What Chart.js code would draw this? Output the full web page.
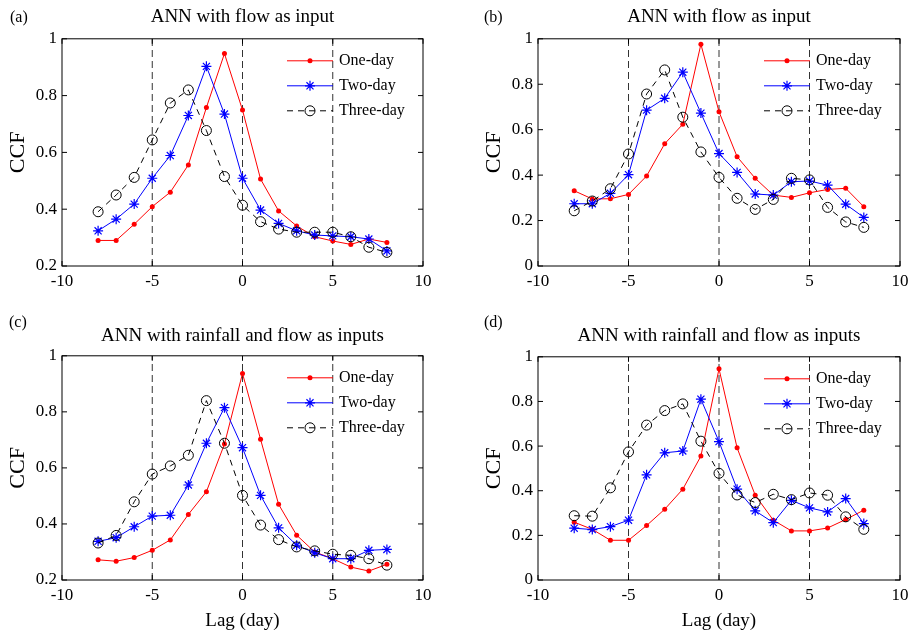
<!DOCTYPE html>
<html>
<head>
<meta charset="utf-8">
<script src="https://cdn.jsdelivr.net/npm/chart.js@4.4.0/dist/chart.umd.min.js"></script>
<style>
  body { margin: 0; background: #fff; }
  #page { position: relative; width: 914px; height: 642px; overflow: hidden; background: #fff; }
  canvas { position: absolute; }
  .tag { position: absolute; font: 16px "Liberation Serif", serif; line-height: 16px; color: #000; }
</style>
</head>
<body>
<div id="page">
  <canvas id="chartA" width="457" height="300" style="left:0px;top:0px"></canvas>
  <canvas id="chartB" width="457" height="300" style="left:457px;top:0px"></canvas>
  <canvas id="chartC" width="457" height="322" style="left:0px;top:320px"></canvas>
  <canvas id="chartD" width="457" height="322" style="left:457px;top:320px"></canvas>
  <div class="tag" style="left:10px;top:9px">(a)</div>
  <div class="tag" style="left:484px;top:9px">(b)</div>
  <div class="tag" style="left:9px;top:314px">(c)</div>
  <div class="tag" style="left:484px;top:314px">(d)</div>
</div>
<script>
const lags = [-8, -7, -6, -5, -4, -3, -2, -1, 0, 1, 2, 3, 4, 5, 6, 7, 8]
const xTicks = [-10, -5, 0, 5, 10]
const yTicksShort = [0.2, 0.4, 0.6, 0.8, 1]
const yTicksFull = [0, 0.2, 0.4, 0.6, 0.8, 1]
const markerLines = [-5, 0, 5]
const seriesNames = ["One-day", "Two-day", "Three-day"]

// (a) ANN with flow as input
const oneA = [0.29, 0.29, 0.347, 0.409, 0.46, 0.556, 0.758, 0.948, 0.749, 0.506, 0.394, 0.341, 0.303, 0.288, 0.276, 0.295, 0.283]
const twoA = [0.324, 0.365, 0.418, 0.509, 0.589, 0.73, 0.903, 0.735, 0.509, 0.397, 0.35, 0.324, 0.309, 0.306, 0.303, 0.295, 0.253]
const threeA = [0.391, 0.45, 0.512, 0.644, 0.774, 0.82, 0.677, 0.515, 0.414, 0.356, 0.33, 0.319, 0.319, 0.319, 0.303, 0.266, 0.248]

// (b) ANN with flow as input
const oneB = [0.331, 0.295, 0.296, 0.315, 0.396, 0.538, 0.624, 0.976, 0.679, 0.481, 0.386, 0.312, 0.302, 0.322, 0.337, 0.342, 0.261]
const twoB = [0.274, 0.274, 0.32, 0.402, 0.686, 0.738, 0.853, 0.673, 0.495, 0.412, 0.317, 0.312, 0.371, 0.374, 0.356, 0.272, 0.214]
const threeB = [0.243, 0.286, 0.34, 0.493, 0.757, 0.863, 0.655, 0.502, 0.39, 0.298, 0.249, 0.293, 0.386, 0.379, 0.258, 0.194, 0.17]

// (c) ANN with rainfall and flow as inputs
const oneC = [0.272, 0.267, 0.28, 0.306, 0.343, 0.434, 0.515, 0.685, 0.937, 0.702, 0.47, 0.36, 0.3, 0.276, 0.246, 0.232, 0.256]
const twoC = [0.338, 0.351, 0.39, 0.428, 0.431, 0.539, 0.688, 0.815, 0.672, 0.502, 0.386, 0.324, 0.297, 0.276, 0.276, 0.306, 0.309]
const threeC = [0.332, 0.359, 0.479, 0.578, 0.607, 0.645, 0.84, 0.688, 0.502, 0.396, 0.344, 0.318, 0.304, 0.292, 0.288, 0.276, 0.253]

// (d) ANN with rainfall and flow as inputs
const oneD = [0.259, 0.227, 0.178, 0.178, 0.244, 0.317, 0.407, 0.555, 0.946, 0.592, 0.38, 0.268, 0.22, 0.22, 0.233, 0.271, 0.313]
const twoD = [0.232, 0.226, 0.239, 0.268, 0.471, 0.57, 0.578, 0.81, 0.62, 0.407, 0.31, 0.257, 0.357, 0.323, 0.305, 0.365, 0.253]
const threeD = [0.288, 0.286, 0.413, 0.574, 0.694, 0.759, 0.789, 0.622, 0.478, 0.381, 0.347, 0.384, 0.36, 0.39, 0.38, 0.283, 0.227]

Chart.defaults.font.family = '"Liberation Serif", "Times New Roman", serif'
Chart.defaults.color = '#000'

const styles = [
  { color: '#ff0000', dash: [], point: 'circle', radius: 2.5, fill: '#ff0000', pointBorder: 0 },
  { color: '#0000ff', dash: [], point: 'star', radius: 5, fill: '#0000ff', pointBorder: 1.2 },
  { color: '#000000', dash: [6, 5], point: 'circle', radius: 5, fill: 'rgba(0,0,0,0)', pointBorder: 1 }
]

function toPoints(values) {
  return lags.map((lag, i) => ({ x: lag, y: values[i] }))
}

function drawMarker(ctx, style, x, y) {
  ctx.save()
  ctx.setLineDash([])
  ctx.strokeStyle = style.color
  ctx.fillStyle = style.fill
  ctx.lineWidth = style.pointBorder || 1
  let r = style.radius
  if (style.point == 'star') {
    ctx.beginPath()
    ctx.moveTo(x - r, y); ctx.lineTo(x + r, y)
    ctx.moveTo(x, y - r); ctx.lineTo(x, y + r)
    let d = r * 0.7071
    ctx.moveTo(x - d, y - d); ctx.lineTo(x + d, y + d)
    ctx.moveTo(x - d, y + d); ctx.lineTo(x + d, y - d)
    ctx.stroke()
  } else {
    ctx.beginPath()
    ctx.arc(x, y, r, 0, Math.PI * 2)
    ctx.fill()
    if (style.pointBorder) ctx.stroke()
  }
  ctx.restore()
}

// box, inward ticks and legend like the original figure
const framePlugin = {
  id: 'frame',
  afterDraw(chart) {
    const ctx = chart.ctx
    const a = chart.chartArea
    const xs = chart.scales.x
    const ys = chart.scales.y
    ctx.save()
    ctx.strokeStyle = '#000'
    ctx.lineWidth = 1
    ctx.strokeRect(a.left, a.top, a.right - a.left, a.bottom - a.top)
    ctx.beginPath()
    xs.ticks.forEach(t => {
      let px = xs.getPixelForValue(t.value)
      ctx.moveTo(px, a.bottom); ctx.lineTo(px, a.bottom - 5)
      ctx.moveTo(px, a.top); ctx.lineTo(px, a.top + 5)
    })
    ys.ticks.forEach(t => {
      let py = ys.getPixelForValue(t.value)
      ctx.moveTo(a.left, py); ctx.lineTo(a.left + 5, py)
      ctx.moveTo(a.right, py); ctx.lineTo(a.right - 5, py)
    })
    ctx.stroke()

    ctx.font = '16px "Liberation Serif", serif'
    ctx.textBaseline = 'middle'
    ctx.fillStyle = '#000'
    seriesNames.forEach((name, i) => {
      let y = a.top + 22 + i * 25
      let x0 = a.right - 136
      let x1 = a.right - 90
      let st = styles[i]
      ctx.save()
      ctx.strokeStyle = st.color
      ctx.setLineDash(st.dash)
      ctx.beginPath()
      ctx.moveTo(x0, y); ctx.lineTo(x1, y)
      ctx.stroke()
      ctx.restore()
      drawMarker(ctx, st, (x0 + x1) / 2, y)
      ctx.fillText(name, a.right - 84, y)
    })
    ctx.restore()
  }
}

function makePanel(id, title, yTicks, series, layout) {
  const yMin = yTicks[0]
  const yMax = yTicks[yTicks.length - 1]

  let datasets = series.map((values, i) => ({
    label: seriesNames[i],
    data: toPoints(values),
    borderColor: styles[i].color,
    borderWidth: 1,
    borderDash: styles[i].dash,
    pointStyle: styles[i].point,
    pointRadius: styles[i].radius,
    pointBackgroundColor: styles[i].fill,
    pointBorderColor: styles[i].color,
    pointBorderWidth: styles[i].pointBorder,
    tension: 0,
    fill: false,
    order: 3 - i
  }))

  markerLines.forEach(v => {
    datasets.push({
      label: 'lag ' + v,
      data: [{ x: v, y: yMin }, { x: v, y: yMax }],
      borderColor: '#333',
      borderWidth: 1,
      borderDash: [7, 4],
      pointRadius: 0,
      fill: false,
      order: 10
    })
  })

  new Chart(document.getElementById(id), {
    type: 'line',
    data: { datasets: datasets },
    plugins: [framePlugin],
    options: {
      responsive: false,
      animation: false,
      events: [],
      layout: { padding: { left: 0, top: 0, right: layout.padRight, bottom: 0 } },
      plugins: {
        legend: { display: false },
        tooltip: { enabled: false },
        title: {
          display: true,
          text: title,
          fullSize: false,
          color: '#000',
          font: { size: 19, weight: 'normal' },
          padding: { top: layout.titleTop, bottom: layout.titleBottom }
        }
      },
      scales: {
        x: {
          type: 'linear',
          min: -10,
          max: 10,
          afterBuildTicks: s => { s.ticks = xTicks.map(v => ({ value: v })) },
          afterFit: s => { s.height = layout.xHeight },
          grid: { display: false, drawTicks: false },
          border: { display: false },
          ticks: { font: { size: 17 }, color: '#000', padding: 5, maxRotation: 0, autoSkip: false },
          title: {
            display: layout.xTitle,
            text: 'Lag (day)',
            color: '#000',
            font: { size: 19 },
            padding: { top: 0, bottom: 10 }
          }
        },
        y: {
          min: yMin,
          max: yMax,
          afterBuildTicks: s => { s.ticks = yTicks.map(v => ({ value: v })) },
          afterFit: s => { s.width = layout.yWidth },
          grid: { display: false, drawTicks: false },
          border: { display: false },
          ticks: { font: { size: 17 }, color: '#000', padding: 5, callback: v => String(v) },
          title: {
            display: true,
            text: 'CCF',
            color: '#000',
            font: { size: 22 },
            padding: { top: layout.yTitlePad, bottom: 0 }
          }
        }
      }
    }
  })
}

makePanel('chartA', 'ANN with flow as input', yTicksShort, [oneA, twoA, threeA],
  { padRight: 34, titleTop: 6, titleBottom: 10, xHeight: 34, yWidth: 62, yTitlePad: 5, xTitle: false })
makePanel('chartB', 'ANN with flow as input', yTicksFull, [oneB, twoB, threeB],
  { padRight: 14, titleTop: 6, titleBottom: 10, xHeight: 34, yWidth: 81, yTitlePad: 24, xTitle: false })
makePanel('chartC', 'ANN with rainfall and flow as inputs', yTicksShort, [oneC, twoC, threeC],
  { padRight: 34, titleTop: 5, titleBottom: 8, xHeight: 62, yWidth: 62, yTitlePad: 5, xTitle: true })
makePanel('chartD', 'ANN with rainfall and flow as inputs', yTicksFull, [oneD, twoD, threeD],
  { padRight: 14, titleTop: 5, titleBottom: 9, xHeight: 62, yWidth: 81, yTitlePad: 24, xTitle: true })
</script>
</body>
</html>
